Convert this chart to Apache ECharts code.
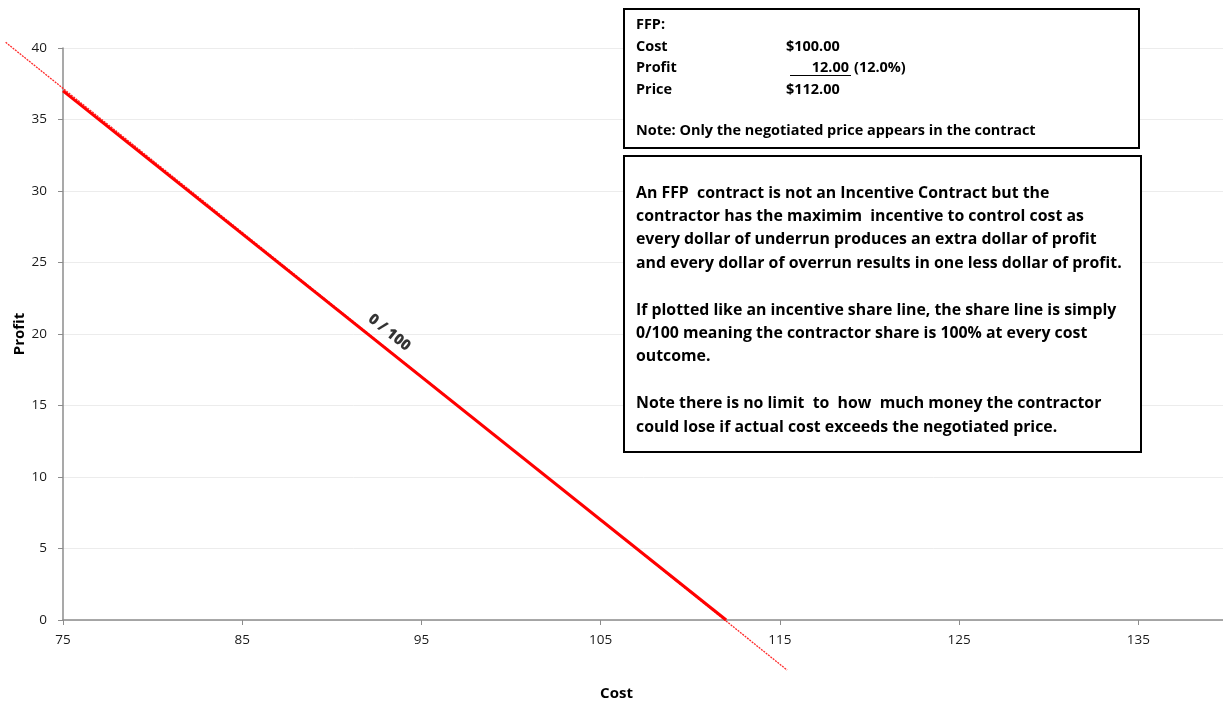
<!DOCTYPE html>
<html>
<head>
<meta charset="utf-8">
<title>FFP share line</title>
<script src="https://cdn.jsdelivr.net/npm/echarts@6/dist/echarts.min.js"></script>
<style>
  html, body { margin: 0; padding: 0; background: #fff; }
  #chart { width: 1223px; height: 701px; }
</style>
</head>
<body>
<div id="chart"></div>
<script>
// Firm fixed price: profit falls one dollar for every dollar of cost
const shareCost = [75, 112];
const shareProfit = [37, 0];
// Extended (dotted) share line running past the axis range
const trendCost = [71.8, 115.4];
const trendProfit = [40.4, -3.5];
// Share ratio label placed along the line
const shareLabelText = '0 / 100';
const shareLabelPos = [93.2, 20.1];

const xTicks = { min: 75, max: 140, interval: 10 };
const yTicks = { min: 0, max: 40, interval: 5 };

const FONT = '"Open Sans", Lato, sans-serif';

// Text box contents
const ffpRows = [
  ['FFP:', ''],
  ['Cost', '$100.00'],
  ['Profit', '12.00'],
  ['Price', '$112.00']
];
const ffpNote = 'Note: Only the negotiated price appears in the contract';
const ffpPct = '(12.0%)';
const explainLines = [
  'An FFP  contract is not an Incentive Contract but the',
  'contractor has the maximim  incentive to control cost as',
  'every dollar of underrun produces an extra dollar of profit',
  'and every dollar of overrun results in one less dollar of profit.',
  '',
  'If plotted like an incentive share line, the share line is simply',
  '0/100 meaning the contractor share is 100% at every cost',
  'outcome.',
  '',
  'Note there is no limit  to  how  much money the contractor',
  'could lose if actual cost exceeds the negotiated price.'
];

// Pick a bold font size so that a line of text spans the given width
const measureCtx = document.createElement('canvas').getContext('2d');
function fitSize(text, width) {
  measureCtx.font = 'bold 20px ' + FONT;
  return 20 * width / measureCtx.measureText(text).width;
}
const ffpSize = fitSize(ffpNote, 400);
const explainSize = fitSize(explainLines[3], 486);

const chart = echarts.init(document.getElementById('chart'), null, { renderer: 'canvas' });

const boxText = { fontFamily: FONT, fontWeight: 'bold', fill: '#000', textVerticalAlign: 'middle' };
function txt(x, y, text, size, align) {
  return { type: 'text', x: x, y: y, z: 11,
    style: Object.assign({ text: text, fontSize: size, textAlign: align || 'left' }, boxText) };
}

const graphics = [];
// FFP summary box
graphics.push({
  type: 'rect', left: 623, top: 8, z: 10,
  shape: { width: 515, height: 139 },
  style: { fill: '#fff', stroke: '#000', lineWidth: 2 }
});
const rowY = [25, 47, 68, 90];
ffpRows.forEach((r, i) => {
  graphics.push(txt(636, rowY[i], r[0], ffpSize));
  if (r[1]) {
    graphics.push(i === 2 ? txt(849, rowY[i], r[1], ffpSize, 'right') : txt(786, rowY[i], r[1], ffpSize));
  }
});
graphics.push({ type: 'line', z: 11, shape: { x1: 790, y1: 75.5, x2: 851, y2: 75.5 }, style: { stroke: '#000', lineWidth: 1 } });
graphics.push(txt(854, 68, ffpPct, ffpSize));
graphics.push(txt(636, 131, ffpNote, ffpSize));

// Explanation box
graphics.push({
  type: 'rect', left: 623, top: 155, z: 10,
  shape: { width: 517, height: 296 },
  style: { fill: '#fff', stroke: '#000', lineWidth: 2 }
});
explainLines.forEach((t, i) => {
  if (t) graphics.push(txt(636, 193 + i * 23.4, t, explainSize));
});

chart.setOption({
  animation: false,
  backgroundColor: '#fff',
  grid: { left: 63, top: 48, right: -5, bottom: 81, containLabel: false, outerBoundsMode: 'none' },
  xAxis: {
    type: 'value',
    min: xTicks.min, max: xTicks.max, interval: xTicks.interval,
    name: 'Cost', nameLocation: 'middle', nameGap: 66, nameMoveOverlap: false,
    nameTextStyle: { fontFamily: FONT, fontWeight: 'bold', fontSize: 15, color: '#000', padding: [0, 58, 0, 0] },
    axisLine: { show: true, lineStyle: { color: '#8c8c8c', width: 1.5 } },
    axisTick: { show: true, length: 5, lineStyle: { color: '#8c8c8c' } },
    axisLabel: { fontFamily: FONT, fontSize: 13.5, color: '#1a1a1a', margin: 13, showMaxLabel: false },
    splitLine: { show: false }
  },
  yAxis: {
    type: 'value',
    min: yTicks.min, max: yTicks.max, interval: yTicks.interval,
    name: 'Profit', nameLocation: 'middle', nameRotate: 90, nameGap: 36, nameMoveOverlap: false,
    nameTextStyle: { fontFamily: FONT, fontWeight: 'bold', fontSize: 15, color: '#000' },
    axisLine: { show: true, lineStyle: { color: '#8c8c8c', width: 1.5 } },
    axisTick: { show: true, inside: false, length: 5, lineStyle: { color: '#8c8c8c' } },
    axisLabel: { fontFamily: FONT, fontSize: 13.5, color: '#1a1a1a', margin: 16 },
    splitLine: { show: true, lineStyle: { color: '#ececec', width: 1 } }
  },
  series: [
    {
      // dotted extension, drawn from the two end values through the axis scales
      name: 'Trend', type: 'custom', silent: true, clip: false,
      data: [[trendCost[0], trendProfit[0], trendCost[1], trendProfit[1]]],
      encode: { x: [0, 2], y: [1, 3] },
      renderItem: function (params, api) {
        const a = api.coord([api.value(0), api.value(1)]);
        const b = api.coord([api.value(2), api.value(3)]);
        return {
          type: 'line',
          shape: { x1: a[0], y1: a[1], x2: b[0], y2: b[1] },
          style: { stroke: '#ff2a2a', lineWidth: 1.3, lineDash: [2, 1] }
        };
      },
      z: 2
    },
    {
      name: 'Share line', type: 'line', clip: false,
      data: shareCost.map((c, i) => [c, shareProfit[i]]),
      symbol: 'none',
      lineStyle: { color: '#ff0000', width: 3 },
      z: 3
    },
    {
      name: 'Share ratio', type: 'scatter', clip: false, symbolSize: 0,
      data: [[shareLabelPos[0], shareLabelPos[1], shareLabelText]],
      label: {
        show: true, position: 'inside', rotate: -38.6,
        formatter: p => p.value[2],
        fontFamily: FONT, fontWeight: 800, fontSize: 15, color: '#000',
        textBorderWidth: 0
      },
      z: 4
    }
  ],
  graphic: graphics
});
</script>
</body>
</html>
